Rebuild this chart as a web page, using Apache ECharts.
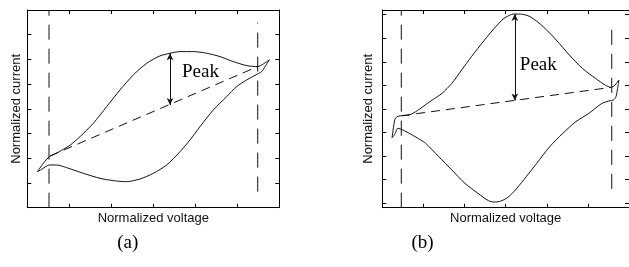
<!DOCTYPE html>
<html>
<head>
<meta charset="utf-8">
<script src="https://cdn.jsdelivr.net/npm/echarts@6/dist/echarts.min.js"></script>
<style>html,body{margin:0;padding:0;background:#fff;}#c{width:629px;height:267px;}</style>
</head>
<body>
<div id="c"></div>
<script>
// ---- Chart (a) data ----
const loopA_upper = [[0.239,1.459],[0.382,1.796],[0.525,2.066],[0.660,2.174],[0.858,2.363],[1.017,2.525],[1.255,2.876],[1.572,3.416],[1.890,4.090],[2.207,4.765],[2.524,5.372],[2.842,5.845],[3.160,6.142],[3.398,6.250],[3.636,6.317],[3.953,6.317],[4.271,6.250],[4.588,6.115],[4.905,5.912],[5.223,5.750],[5.485,5.710],[5.620,5.818],[5.763,5.980]];
const loopA_lower = [[5.763,5.980],[5.660,5.710],[5.580,5.507],[5.485,5.413],[5.223,5.170],[4.985,4.900],[4.747,4.495],[4.429,3.955],[4.112,3.281],[3.874,2.741],[3.636,2.268],[3.318,1.729],[3.001,1.391],[2.683,1.162],[2.366,1.054],[2.048,1.094],[1.731,1.189],[1.334,1.391],[0.937,1.621],[0.699,1.729],[0.525,1.729],[0.342,1.553],[0.239,1.459]];
const baselineA = [[0.54,2.093],[5.485,5.710]];
const peakA = [[3.398,6.250],[3.398,4.158]];
const vlineA1 = [[0.517,0],[0.517,8]];
const vlineA2 = [[5.486,0.65],[5.486,7.49]];
const peakLabelA = [[4.124,5.494]];

// ---- Chart (b) data ----
const loopB_upper = [[0.238,2.774],[0.302,3.526],[0.357,3.666],[0.462,3.708],[0.660,3.738],[0.857,3.930],[1.095,4.230],[1.215,4.375],[1.453,4.659],[1.691,5.083],[1.929,5.650],[2.167,6.216],[2.485,6.924],[2.723,7.420],[2.961,7.845],[3.199,8.029],[3.358,8.029],[3.596,7.915],[3.914,7.490],[4.231,6.924],[4.548,6.287],[4.866,5.720],[5.183,5.296],[5.421,5.012],[5.564,4.913],[5.660,5.012],[5.755,5.225]];
const loopB_lower = [[5.755,5.225],[5.723,4.871],[5.683,4.517],[5.620,4.375],[5.540,4.347],[5.342,4.234],[5.025,3.809],[4.707,3.455],[4.390,2.959],[4.072,2.393],[3.755,1.685],[3.437,0.977],[3.199,0.481],[3.040,0.220],[2.880,0.080],[2.720,0.040],[2.580,0.100],[2.326,0.410],[2.009,0.835],[1.691,1.402],[1.374,1.968],[1.056,2.534],[0.938,2.676],[0.700,2.918],[0.500,3.101],[0.381,3.173],[0.302,2.918],[0.238,2.774]];
const baselineB = [[0.462,3.708],[5.564,4.913]];
const peakB = [[3.223,8.029],[3.223,4.360]];
const vlineB1 = [[0.462,-0.2],[0.462,8.2]];
const vlineB2 = [[5.58,0.6],[5.58,7.7]];
const peakLabelB = [[3.795,5.862]];

// ---- Axis ticks / labels ----
const xTicks = [0,1,2,3,4,5,6];
const yTicks = [0,1,2,3,4,5,6,7,8];
const xName = 'Normalized voltage';
const yName = 'Normalized current';
const captions = ['(a)','(b)'];

const chart = echarts.init(document.getElementById('c'), null, {renderer:'canvas'});
const black = '#000';
function xAx(grid, pos, name){
  return {gridIndex:grid, type:'value', position:pos, min:0, max:6, interval:1,
    axisLine:{show:true, onZero:false, lineStyle:{color:black, width:1}},
    axisTick:{show:true, inside:true, length:4, lineStyle:{color:black}},
    axisLabel:{show:false}, splitLine:{show:false},
    name:name||'', nameLocation:'middle', nameGap:4,
    nameTextStyle:{fontFamily:'Liberation Sans', fontSize:13, color:'#111', verticalAlign:'top'}};
}
function yAx(grid, pos, name, mn, mx, gap){
  return {gridIndex:grid, type:'value', position:pos, min:mn, max:mx,
    axisLine:{show:true, onZero:false, lineStyle:{color:black, width:1}},
    axisTick:{show:true, inside:true, length:4, customValues:yTicks, lineStyle:{color:black}},
    axisLabel:{show:false, customValues:yTicks}, splitLine:{show:false},
    name:name||'', nameLocation:'middle', nameGap:gap||4,
    nameTextStyle:{fontFamily:'Liberation Sans', fontSize:13, color:'#111'}};
}
function line(data, xi, yi, dashed, dash){
  return {type:'line', data:data, xAxisIndex:xi, yAxisIndex:yi, symbol:'none', smooth:dashed?false:0.25,
    lineStyle:{color:'#111', width:1, type: dashed ? dash : 'solid'}, silent:true, animation:false, z:3};
}
function arrow(data, xi, yi){
  return {type:'line', data:[], xAxisIndex:xi, yAxisIndex:yi, symbol:'none', animation:false,
    markLine:{silent:true, symbol:['arrow','arrow'], symbolSize:[5,7], label:{show:false},
      lineStyle:{color:'#111', width:1, type:'solid'},
      data:[[{coord:data[0]},{coord:data[1]}]]}};
}
function label(data, xi, yi){
  return {type:'scatter', data:data, xAxisIndex:xi, yAxisIndex:yi, symbolSize:1, silent:true,
    itemStyle:{color:'rgba(0,0,0,0)', opacity:1}, animation:false,
    label:{show:true, position:'inside', formatter:'Peak', fontFamily:'Liberation Serif', fontSize:19, color:'#000', textBorderWidth:0, opacity:1}};
}
const option = {
  backgroundColor:'#fff',
  animation:false,
  title:[
    {text:captions[0], left:122.7, top:229, textAlign:'center', textStyle:{fontFamily:'Liberation Serif', fontSize:19, fontWeight:'normal', color:black}},
    {text:captions[1], left:417.5, top:229, textAlign:'center', textStyle:{fontFamily:'Liberation Serif', fontSize:19, fontWeight:'normal', color:black}}
  ],
  grid:[
    {left:27.3, top:10, width:252, height:197.7},
    {left:382.3, top:10, width:252, height:197.7}
  ],
  xAxis:[xAx(0,'bottom',xName), xAx(0,'top'), xAx(1,'bottom',xName), xAx(1,'top')],
  yAxis:[yAx(0,'left',yName,0,8,4), yAx(0,'right','',0,8), yAx(1,'left',yName,-0.2,8.2,7), yAx(1,'right','',-0.2,8.2)],
  series:[
    line(loopA_upper,0,0), line(loopA_lower,0,0),
    line(baselineA,0,0,true,[9,6]),
    line(vlineA1,0,0,true,[15,9]), line(vlineA2,0,0,true,[15,9]),
    arrow(peakA,0,0), label(peakLabelA,0,0),
    line(loopB_upper,2,2), line(loopB_lower,2,2),
    line(baselineB,2,2,true,[9,6]),
    line(vlineB1,2,2,true,[15,9]), line(vlineB2,2,2,true,[15,9]),
    arrow(peakB,2,2), label(peakLabelB,2,2)
  ]
};
chart.setOption(option);
</script>
</body>
</html>
